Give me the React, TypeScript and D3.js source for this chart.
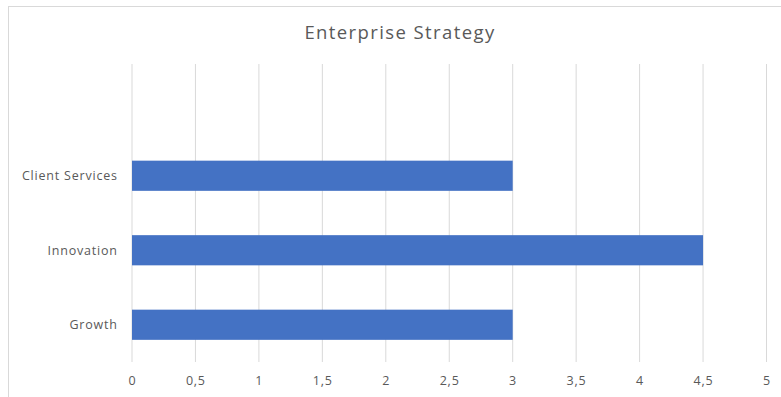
import React from "react";
import * as d3 from "d3";

const title = "Enterprise Strategy";
const categories = ["Client Services", "Innovation", "Growth"];
const values = [3, 4.5, 3];
const xTicks = [0, 0.5, 1, 1.5, 2, 2.5, 3, 3.5, 4, 4.5, 5];

const W = 781;
const H = 397;
const plotLeft = 132;
const plotRight = 766.5;
const plotTop = 64;
const plotBottom = 362;
const FONT = "'Open Sans', 'Noto Sans', sans-serif";
const TEXT = "#595959";

export default function App() {
  const x = d3.scaleLinear().domain([0, 5]).range([plotLeft, plotRight]);
  const slot = (plotBottom - plotTop) / 4;
  const y = d3
    .scaleBand<string>()
    .domain(categories)
    .range([plotTop + slot, plotBottom])
    .paddingInner(0.595)
    .paddingOuter(0.2975);
  const fmt = (v: number) => String(v).replace(".", ",");

  return (
    <svg
      width={W}
      height={H}
      style={{ position: "absolute", left: 0, top: 0, background: "#fff" }}
      fontFamily={FONT}
    >
      <rect x={0} y={0} width={W} height={H} fill="#fff" />
      <rect x={8.5} y={6.5} width={W + 20} height={H + 20} fill="none" stroke="#d9d9d9" strokeWidth={1} />
      <text x={400} y={39} textAnchor="middle" fontSize={18.5} letterSpacing={1.4} fill={TEXT}>
        {title}
      </text>
      {xTicks.map((t) => (
        <line
          key={"g" + t}
          x1={x(t)}
          x2={x(t)}
          y1={plotTop}
          y2={plotBottom}
          stroke="#d9d9d9"
          strokeWidth={1}
        />
      ))}
      {categories.map((c, i) => (
        <rect
          key={"b" + c}
          x={x(0)}
          y={y(c)}
          width={x(values[i]) - x(0)}
          height={y.bandwidth()}
          fill="#4472C4"
        />
      ))}
      {categories.map((c) => (
        <text
          key={"l" + c}
          x={plotLeft - 14.2}
          y={(y(c) as number) + y.bandwidth() / 2}
          dy="0.35em"
          textAnchor="end"
          fontSize={12.5}
          letterSpacing={0.8}
          fill={TEXT}
        >
          {c}
        </text>
      ))}
      {xTicks.map((t) => (
        <text
          key={"t" + t}
          x={x(t) + 0.4}
          y={385}
          textAnchor="middle"
          fontSize={12.5}
          letterSpacing={0.8}
          fill={TEXT}
        >
          {fmt(t)}
        </text>
      ))}
    </svg>
  );
}
